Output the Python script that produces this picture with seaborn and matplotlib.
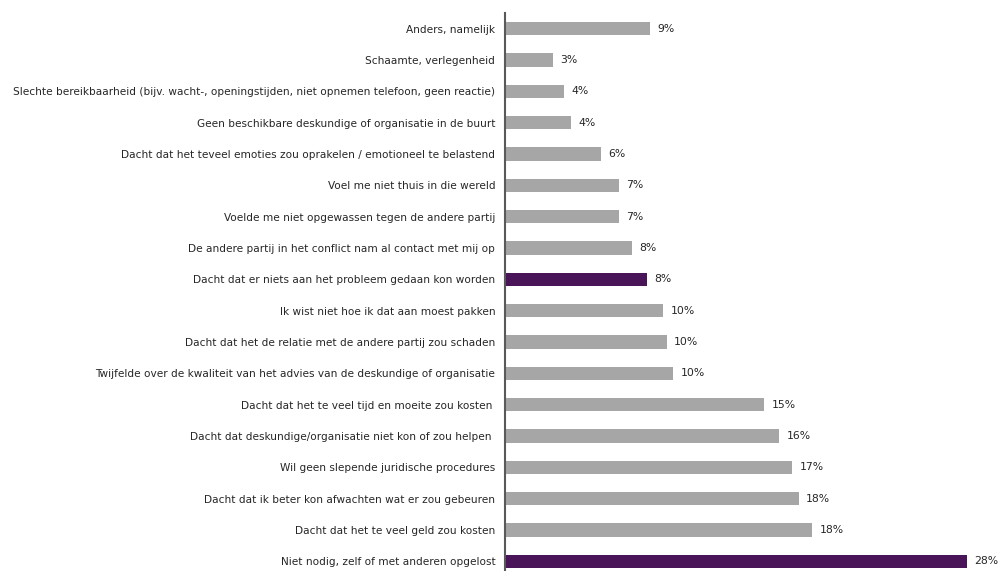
import matplotlib
matplotlib.use("Agg")
import matplotlib.pyplot as plt
import seaborn as sns
import pandas as pd

categories = [
    "Anders, namelijk",
    "Schaamte, verlegenheid",
    "Slechte bereikbaarheid (bijv. wacht-, openingstijden, niet opnemen telefoon, geen reactie)",
    "Geen beschikbare deskundige of organisatie in de buurt",
    "Dacht dat het teveel emoties zou oprakelen / emotioneel te belastend",
    "Voel me niet thuis in die wereld",
    "Voelde me niet opgewassen tegen de andere partij",
    "De andere partij in het conflict nam al contact met mij op",
    "Dacht dat er niets aan het probleem gedaan kon worden",
    "Ik wist niet hoe ik dat aan moest pakken",
    "Dacht dat het de relatie met de andere partij zou schaden",
    "Twijfelde over de kwaliteit van het advies van de deskundige of organisatie",
    "Dacht dat het te veel tijd en moeite zou kosten ",
    "Dacht dat deskundige/organisatie niet kon of zou helpen ",
    "Wil geen slepende juridische procedures",
    "Dacht dat ik beter kon afwachten wat er zou gebeuren",
    "Dacht dat het te veel geld zou kosten",
    "Niet nodig, zelf of met anderen opgelost",
]
values = [8.8, 2.9, 3.6, 4.0, 5.8, 6.9, 6.9, 7.7, 8.6, 9.6, 9.8, 10.2, 15.7, 16.6, 17.4, 17.8, 18.6, 28.0]
value_labels = ["9%", "3%", "4%", "4%", "6%", "7%", "7%", "8%", "8%", "10%", "10%", "10%",
                "15%", "16%", "17%", "18%", "18%", "28%"]
highlight = [False] * 8 + [True] + [False] * 8 + [True]

df = pd.DataFrame({"cat": categories, "val": values,
                   "grp": ["hl" if h else "base" for h in highlight]})

sns.set_theme(style="white")
plt.rcParams["font.family"] = ["DejaVu Sans"]

fig = plt.figure(figsize=(10.05, 5.71), dpi=100)
ax = fig.add_axes([505 / 1005, -6 / 571, 500 / 1005, 564 / 571])

sns.barplot(data=df, y="cat", x="val", hue="grp",
            palette={"base": "#a6a6a6", "hl": "#4a1459"},
            order=categories, hue_order=["base", "hl"], dodge=False,
            width=0.42, legend=False, ax=ax, saturation=1, linewidth=0)

ax.set_xlim(0, 500 / 16.5)
ax.set_ylim(17.5, -0.5)
ax.set_xlabel("")
ax.set_ylabel("")
ax.set_xticks([])
for s in ["top", "right", "bottom"]:
    ax.spines[s].set_visible(False)
ax.spines["left"].set_color("#595959")
ax.spines["left"].set_linewidth(1.5)
ax.tick_params(axis="y", length=0, pad=7, labelsize=7.6, labelcolor="#262626")

for i, (v, lab) in enumerate(zip(values, value_labels)):
    ax.text(v + 0.45, i, lab, va="center", ha="left", fontsize=7.8, color="#262626")

fig.savefig("out.png", dpi=100)
